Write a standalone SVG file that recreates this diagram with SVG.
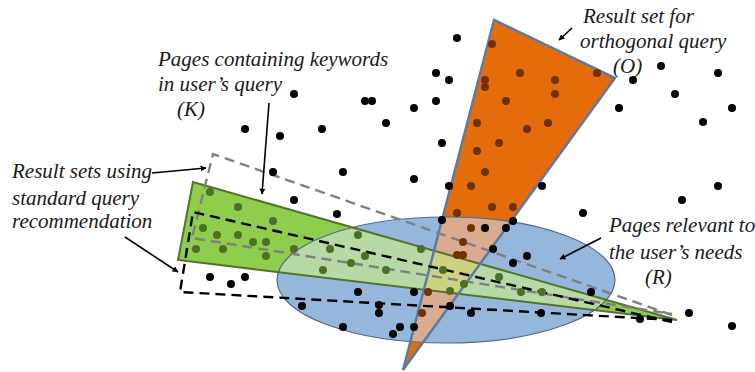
<svg xmlns="http://www.w3.org/2000/svg" width="755" height="372" viewBox="0 0 755 372">
  <style>
    .lbl { font-family: "Liberation Serif", "Times New Roman", serif; font-style: italic; font-size: 21px; fill: #1a1a1a; }
    .arrow { stroke: #000; stroke-width: 1.6; fill: none; marker-end: url(#head); }
    .dash-k { stroke: #808080; stroke-width: 2.4; fill: none; stroke-dasharray: 10 6; }
    .dash-s { stroke: #000; stroke-width: 2.4; fill: none; stroke-dasharray: 10 6; }
    .k { fill: #000; }
    .o { fill: #6e3205; }
    .g { fill: #4d7026; }
  </style>
  <defs>
    <marker id="head" viewBox="0 0 10 10" refX="9" refY="5" markerWidth="6" markerHeight="6" markerUnits="userSpaceOnUse" orient="auto">
      <path d="M0,0 L10,5 L0,10 Z" fill="#000"/>
    </marker>
    <polygon id="wedgeO" points="494,20 615,78 403,370"/>
    <polygon id="wedgeG" points="193,182 677,320 178,260"/>
    <ellipse id="ellR" cx="446" cy="280" rx="169" ry="63"/>
    <clipPath id="clipR"><use href="#ellR"/></clipPath>
    <clipPath id="clipO"><use href="#wedgeO"/></clipPath>
  </defs>

  <rect width="755" height="372" fill="#fff"/>

  <!-- result set for the orthogonal query -->
  <g id="set-orthogonal">
    <use href="#wedgeO" fill="#e46c0a"/>
  </g>

  <!-- pages relevant to the user's needs -->
  <g id="set-relevant">
    <use href="#ellR" fill="#95b7db"/>
    <use href="#wedgeO" fill="#d9ac90" clip-path="url(#clipR)"/>
  </g>

  <!-- result sets using standard query recommendation -->
  <g id="set-standard">
    <use href="#wedgeG" fill="#8fcd4c"/>
    <use href="#wedgeG" fill="#b6d9a6" clip-path="url(#clipR)"/>
    <g clip-path="url(#clipR)">
      <use href="#wedgeG" fill="#cdd283" clip-path="url(#clipO)"/>
    </g>
  </g>

  <!-- outlines drawn above all fills -->
  <g id="outlines" fill="none">
    <use href="#ellR" stroke="#4e6b8f" stroke-width="1.2"/>
    <use href="#wedgeG" stroke="#56722c" stroke-width="2"/>
    <use href="#wedgeO" stroke="#5d7ba1" stroke-width="2.5" stroke-linejoin="miter"/>
  </g>

  <!-- pages containing keywords (grey dashed) -->
  <g id="set-keywords">
    <path class="dash-k" d="M672,315 L213,154 L192,238 L672,314"/>
  </g>

  <!-- recommended result sets (black dashed) -->
  <g id="set-recommended">
    <path class="dash-s" d="M672,322 L193,212 L180,292 L672,320"/>
  </g>

  <!-- pages -->
  <g id="pages">
    <g class="k">
      <circle cx="457" cy="38" r="4"/><circle cx="436" cy="73" r="4"/><circle cx="449" cy="80" r="4"/>
      <circle cx="436" cy="101" r="4"/><circle cx="414" cy="108" r="4"/><circle cx="386" cy="123" r="4"/>
      <circle cx="442" cy="143" r="4"/><circle cx="414" cy="179" r="4"/><circle cx="449" cy="186" r="4"/>
      <circle cx="542" cy="186" r="4"/><circle cx="583" cy="213" r="4"/><circle cx="442" cy="220" r="4"/>
      <circle cx="513" cy="221" r="4"/><circle cx="485" cy="228" r="4"/><circle cx="506" cy="228" r="4"/>
      <circle cx="633" cy="80" r="4"/><circle cx="619" cy="108" r="4"/><circle cx="661" cy="66" r="4"/>
      <circle cx="718" cy="73" r="4"/><circle cx="675" cy="94" r="4"/><circle cx="732" cy="108" r="4"/>
      <circle cx="703" cy="122" r="4"/><circle cx="718" cy="186" r="4"/><circle cx="682" cy="200" r="4"/>
      <circle cx="294" cy="94" r="4"/><circle cx="365" cy="101" r="4"/><circle cx="372" cy="101" r="4"/>
      <circle cx="245" cy="129" r="4"/><circle cx="280" cy="136" r="4"/><circle cx="322" cy="129" r="4"/>
      <circle cx="273" cy="172" r="4"/><circle cx="343" cy="172" r="4"/><circle cx="294" cy="200" r="4"/>
      <circle cx="337" cy="214" r="4"/><circle cx="210" cy="277" r="4"/><circle cx="245" cy="277" r="4"/>
      <circle cx="231" cy="284" r="4"/><circle cx="302" cy="306" r="4"/><circle cx="358" cy="292" r="4"/>
      <circle cx="343" cy="327" r="4"/><circle cx="493" cy="249" r="4"/><circle cx="527" cy="256" r="4"/>
      <circle cx="513" cy="263" r="4"/><circle cx="414" cy="292" r="4"/><circle cx="379" cy="305" r="4"/>
      <circle cx="379" cy="313" r="4"/><circle cx="450" cy="306" r="4"/><circle cx="471" cy="313" r="4"/>
      <circle cx="541" cy="313" r="4"/><circle cx="400" cy="327" r="4"/><circle cx="393" cy="334" r="4"/>
      <circle cx="414" cy="327" r="4"/><circle cx="591" cy="292" r="4"/><circle cx="640" cy="319" r="4"/>
      <circle cx="689" cy="313" r="4"/><circle cx="732" cy="326" r="4"/>
    </g>
    <g class="o">
      <circle cx="492" cy="44" r="4"/><circle cx="485" cy="80" r="4"/><circle cx="485" cy="87" r="4"/>
      <circle cx="520" cy="73" r="4"/><circle cx="555" cy="80" r="4"/><circle cx="555" cy="94" r="4"/>
      <circle cx="597" cy="73" r="4"/><circle cx="506" cy="101" r="4"/><circle cx="477" cy="123" r="4"/>
      <circle cx="548" cy="123" r="4"/><circle cx="527" cy="129" r="4"/><circle cx="499" cy="143" r="4"/>
      <circle cx="477" cy="151" r="4"/><circle cx="485" cy="172" r="4"/><circle cx="471" cy="186" r="4"/>
      <circle cx="457" cy="213" r="4"/><circle cx="492" cy="207" r="4"/><circle cx="513" cy="207" r="4"/>
      <circle cx="471" cy="228" r="4"/><circle cx="463" cy="242" r="4"/><circle cx="457" cy="255" r="4"/>
      <circle cx="463" cy="255" r="4"/><circle cx="428" cy="292" r="4"/><circle cx="422" cy="313" r="4"/>
    </g>
    <g class="g">
      <circle cx="210" cy="192" r="4"/><circle cx="238" cy="207" r="4"/><circle cx="273" cy="221" r="4"/>
      <circle cx="203" cy="228" r="4"/><circle cx="217" cy="235" r="4"/><circle cx="238" cy="235" r="4"/>
      <circle cx="253" cy="242" r="4"/><circle cx="266" cy="242" r="4"/><circle cx="196" cy="249" r="4"/>
      <circle cx="223" cy="249" r="4"/><circle cx="266" cy="256" r="4"/><circle cx="294" cy="249" r="4"/>
      <circle cx="330" cy="249" r="4"/><circle cx="358" cy="235" r="4"/><circle cx="365" cy="256" r="4"/>
      <circle cx="351" cy="263" r="4"/><circle cx="323" cy="270" r="4"/><circle cx="386" cy="270" r="4"/>
      <circle cx="421" cy="249" r="4"/><circle cx="443" cy="270" r="4"/><circle cx="450" cy="291" r="4"/>
      <circle cx="464" cy="284" r="4"/><circle cx="499" cy="277" r="4"/><circle cx="521" cy="292" r="4"/>
      <circle cx="542" cy="292" r="4"/>
    </g>
  </g>

  <!-- label arrows -->
  <g id="connectors">
    <line class="arrow" x1="152" y1="173" x2="206" y2="168"/>
    <line class="arrow" x1="125" y1="237" x2="178" y2="272"/>
    <line class="arrow" x1="269" y1="103" x2="262" y2="194"/>
    <line class="arrow" x1="572" y1="28" x2="559" y2="40"/>
    <line class="arrow" x1="601" y1="238" x2="560" y2="259"/>
  </g>

  <g id="label-keywords">
    <text class="lbl" x="158" y="66">Pages containing keywords</text>
    <text class="lbl" x="158" y="91">in user’s query</text>
    <text class="lbl" x="177" y="116">(K)</text>
  </g>
  <g id="label-orthogonal">
    <text class="lbl" x="583" y="23">Result set for</text>
    <text class="lbl" x="580" y="48">orthogonal query</text>
    <text class="lbl" x="613" y="73">(O)</text>
  </g>
  <g id="label-relevant">
    <text class="lbl" x="609" y="232">Pages relevant to</text>
    <text class="lbl" x="609" y="259">the user’s needs</text>
    <text class="lbl" x="645" y="284">(R)</text>
  </g>
  <g id="label-standard">
    <text class="lbl" x="12" y="178">Result sets using</text>
    <text class="lbl" x="12" y="205">standard query</text>
    <text class="lbl" x="12" y="228">recommendation</text>
  </g>
</svg>
